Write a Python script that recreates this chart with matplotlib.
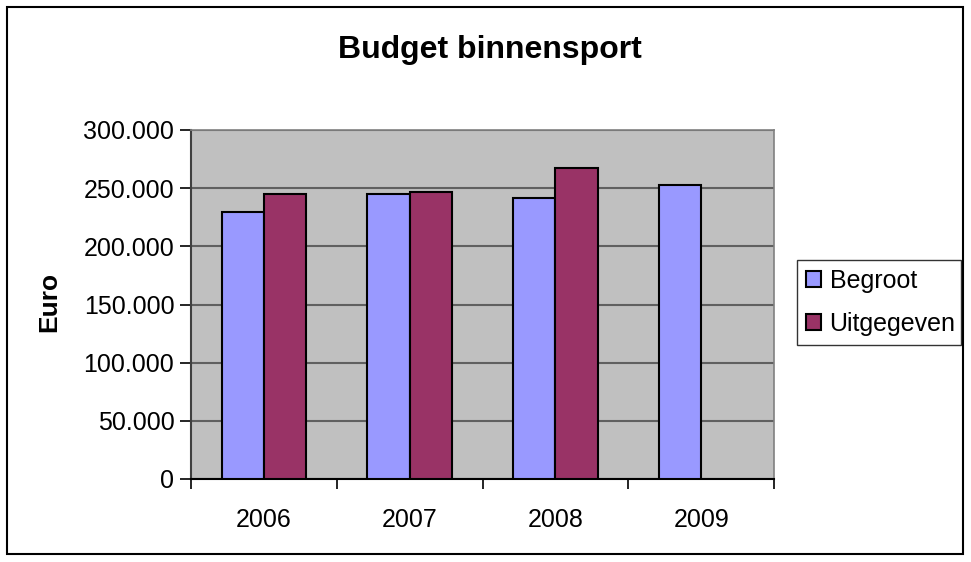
import numpy as np
import matplotlib.pyplot as plt
from matplotlib.patches import Rectangle
from matplotlib.ticker import FuncFormatter

plt.rcParams['font.family'] = ['Liberation Sans', 'DejaVu Sans']

jaren = ["2006", "2007", "2008", "2009"]
begroot = [229200, 244600, 241400, 253100]
uitgegeven = [244600, 246400, 267000, np.nan]

fig = plt.figure(figsize=(9.71, 5.62), dpi=100)
ax = fig.add_axes([191 / 971, 1 - 479 / 562, 583 / 971, 349 / 562])
ax.set_facecolor("#C0C0C0")

x = np.arange(len(jaren))
w = 0.29
ax.bar(x - w / 2, begroot, w, color="#9999FF", edgecolor="black", linewidth=1.5,
       label="Begroot", zorder=3)
ax.bar(x + w / 2, uitgegeven, w, color="#993366", edgecolor="black", linewidth=1.5,
       label="Uitgegeven", zorder=3)

ax.set_xlim(-0.5, len(jaren) - 0.5)
ax.set_ylim(0, 300000)
ax.set_yticks(np.arange(0, 300001, 50000))
ax.yaxis.set_major_formatter(FuncFormatter(lambda v, p: f"{int(v):,}".replace(",", ".")))
ax.grid(axis="y", color="#606060", linewidth=1.5, zorder=1)

# x: ticks on group borders, labels in the middle
ax.set_xticks(np.arange(-0.5, len(jaren), 1))
ax.set_xticklabels([])
ax.set_xticks(x, minor=True)
ax.set_xticklabels(jaren, minor=True)
ax.tick_params(axis="x", which="minor", length=0, pad=21, labelsize=18)
ax.tick_params(axis="x", which="major", length=7, width=1.2, direction="out")
ax.tick_params(axis="y", length=8, width=1.2, direction="out", labelsize=18, pad=4)

for s in ["top", "right"]:
    ax.spines[s].set_color("#808080")
    ax.spines[s].set_linewidth(1.2)
ax.spines["left"].set_color("#404040")
ax.spines["left"].set_linewidth(1.5)
ax.spines["bottom"].set_color("black")
ax.spines["bottom"].set_linewidth(1.5)

fig.text(490 / 971, 1 - 58 / 562, "Budget binnensport", ha="center", va="baseline",
         fontsize=23, fontweight="bold")
fig.text(49 / 971, 1 - 302 / 562, "Euro", rotation=90, ha="center", va="center",
         fontsize=19, fontweight="bold")

leg = ax.legend(loc="center left", bbox_to_anchor=(797 / 971, 1 - 345 / 562, 164 / 971, 85 / 562),
                bbox_transform=fig.transFigure, mode="expand", fontsize=18,
                frameon=True, fancybox=False, edgecolor="black", borderpad=0.35,
                handlelength=0.6, handleheight=0.6, handletextpad=0.35,
                labelspacing=0.75, borderaxespad=0)
leg.get_frame().set_linewidth(1.0)

fig.patches.append(Rectangle((7 / 971, 8 / 562), 956 / 971, 547 / 562,
                             transform=fig.transFigure, fill=False,
                             edgecolor="black", linewidth=1.5))

fig.savefig("out.png", dpi=100)
